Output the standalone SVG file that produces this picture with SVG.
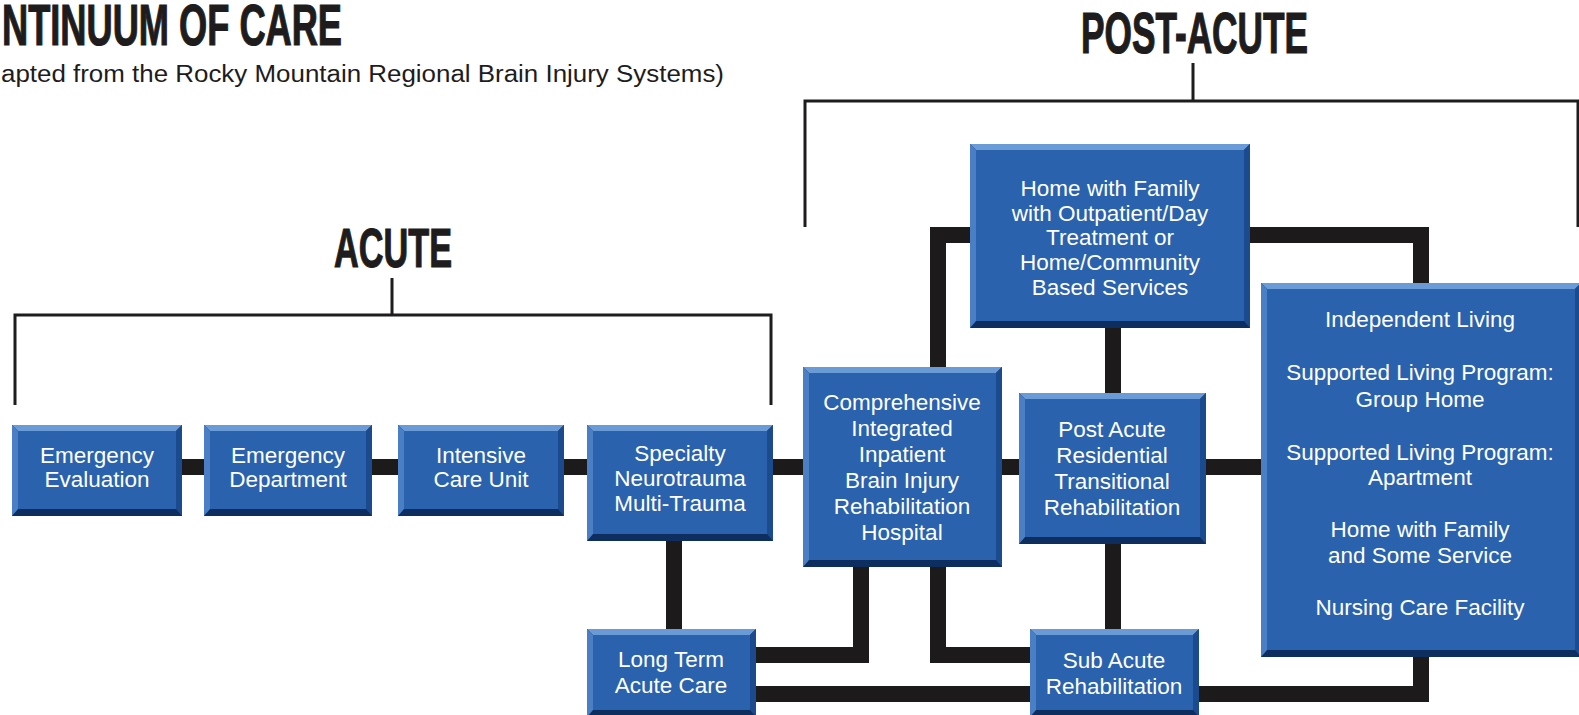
<svg xmlns="http://www.w3.org/2000/svg" width="1579" height="715" viewBox="0 0 1579 715">
<style>
.base{fill:#0e2e5f}
.bt{fill:#6b9bd7}
.bl{fill:#4a7fc5}
.br{fill:#1b4a8f}
.face{fill:#2a62ad}
.t{font-family:"Liberation Sans",Arial,sans-serif;font-size:22.5px;fill:#ffffff;text-anchor:middle}
.h{font-family:"Liberation Sans",Arial,sans-serif;font-weight:bold;fill:#1e1c1d;stroke:#1e1c1d;stroke-width:1.2}
.sub{font-family:"Liberation Sans",Arial,sans-serif;font-size:23.5px;fill:#1e1c1d}
.br-line{fill:none;stroke:#1e1c1d;stroke-width:3}
.conn{fill:none;stroke:#1d1a1b;stroke-width:16;stroke-linejoin:miter;stroke-linecap:butt}
</style>
<rect width="1579" height="715" fill="#ffffff"/>

<g id="titles">
<text class="h" x="2" y="45" font-size="57" textLength="340" lengthAdjust="spacingAndGlyphs">NTINUUM OF CARE</text>
<text class="sub" x="1" y="82" textLength="723" lengthAdjust="spacingAndGlyphs">apted from the Rocky Mountain Regional Brain Injury Systems)</text>
<text class="h" x="334" y="267" font-size="56" textLength="118" lengthAdjust="spacingAndGlyphs">ACUTE</text>
<text class="h" x="1081" y="53" font-size="57" textLength="227" lengthAdjust="spacingAndGlyphs">POST-ACUTE</text>
</g>

<g id="brackets">
<path class="br-line" d="M15 405 V315 H771 V405 M392 315 V278"/>
<path class="br-line" d="M805 227 V101 H1578 V227 M1193 101 V63"/>
</g>

<g id="connectors">
<path class="conn" d="M182 467 H1261"/>
<path class="conn" d="M674 541 V629"/>
<path class="conn" d="M861 567 V655 H756"/>
<path class="conn" d="M970 235 H938 V655 H1030"/>
<path class="conn" d="M1113 328 V393"/>
<path class="conn" d="M1250 235 H1421 V283"/>
<path class="conn" d="M1113 544 V629"/>
<path class="conn" d="M756 694 H1421 V657"/>
</g>

<g id="emergency-evaluation">
<rect class="base" x="12" y="425" width="170" height="91"/>
<polygon class="bt" points="12,425 182,425 176,431 18,431"/>
<polygon class="bl" points="12,425 18,431 18,509 12,516"/>
<polygon class="br" points="182,425 182,516 176,509 176,431"/>
<rect class="face" x="18" y="431" width="158" height="78"/>
<text class="t" x="97" y="463">Emergency</text>
<text class="t" x="97" y="487">Evaluation</text>
</g>

<g id="emergency-department">
<rect class="base" x="204" y="425" width="168" height="91"/>
<polygon class="bt" points="204,425 372,425 366,431 210,431"/>
<polygon class="bl" points="204,425 210,431 210,509 204,516"/>
<polygon class="br" points="372,425 372,516 366,509 366,431"/>
<rect class="face" x="210" y="431" width="156" height="78"/>
<text class="t" x="288" y="463">Emergency</text>
<text class="t" x="288" y="487">Department</text>
</g>

<g id="intensive-care-unit">
<rect class="base" x="398" y="425" width="166" height="91"/>
<polygon class="bt" points="398,425 564,425 558,431 404,431"/>
<polygon class="bl" points="398,425 404,431 404,509 398,516"/>
<polygon class="br" points="564,425 564,516 558,509 558,431"/>
<rect class="face" x="404" y="431" width="154" height="78"/>
<text class="t" x="481" y="463">Intensive</text>
<text class="t" x="481" y="487">Care Unit</text>
</g>

<g id="specialty-neurotrauma">
<rect class="base" x="587" y="425" width="186" height="116"/>
<polygon class="bt" points="587,425 773,425 767,431 593,431"/>
<polygon class="bl" points="587,425 593,431 593,534 587,541"/>
<polygon class="br" points="773,425 773,541 767,534 767,431"/>
<rect class="face" x="593" y="431" width="174" height="103"/>
<text class="t" x="680" y="461">Specialty</text>
<text class="t" x="680" y="486">Neurotrauma</text>
<text class="t" x="680" y="511">Multi-Trauma</text>
</g>

<g id="long-term-acute-care">
<rect class="base" x="587" y="629" width="169" height="88"/>
<polygon class="bt" points="587,629 756,629 750,635 593,635"/>
<polygon class="bl" points="587,629 593,635 593,710 587,717"/>
<polygon class="br" points="756,629 756,717 750,710 750,635"/>
<rect class="face" x="593" y="635" width="157" height="75"/>
<text class="t" x="671" y="667">Long Term</text>
<text class="t" x="671" y="693">Acute Care</text>
</g>

<g id="comprehensive-inpatient">
<rect class="base" x="803" y="367" width="199" height="200"/>
<polygon class="bt" points="803,367 1002,367 996,373 809,373"/>
<polygon class="bl" points="803,367 809,373 809,560 803,567"/>
<polygon class="br" points="1002,367 1002,567 996,560 996,373"/>
<rect class="face" x="809" y="373" width="187" height="187"/>
<text class="t" x="902" y="410">Comprehensive</text>
<text class="t" x="902" y="436">Integrated</text>
<text class="t" x="902" y="462">Inpatient</text>
<text class="t" x="902" y="488">Brain Injury</text>
<text class="t" x="902" y="514">Rehabilitation</text>
<text class="t" x="902" y="540">Hospital</text>
</g>

<g id="home-with-family-outpatient">
<rect class="base" x="970" y="144" width="280" height="184"/>
<polygon class="bt" points="970,144 1250,144 1244,150 976,150"/>
<polygon class="bl" points="970,144 976,150 976,321 970,328"/>
<polygon class="br" points="1250,144 1250,328 1244,321 1244,150"/>
<rect class="face" x="976" y="150" width="268" height="171"/>
<text class="t" x="1110" y="196">Home with Family</text>
<text class="t" x="1110" y="221">with Outpatient/Day</text>
<text class="t" x="1110" y="245">Treatment or</text>
<text class="t" x="1110" y="270">Home/Community</text>
<text class="t" x="1110" y="295">Based Services</text>
</g>

<g id="post-acute-residential">
<rect class="base" x="1019" y="393" width="187" height="151"/>
<polygon class="bt" points="1019,393 1206,393 1200,399 1025,399"/>
<polygon class="bl" points="1019,393 1025,399 1025,537 1019,544"/>
<polygon class="br" points="1206,393 1206,544 1200,537 1200,399"/>
<rect class="face" x="1025" y="399" width="175" height="138"/>
<text class="t" x="1112" y="437">Post Acute</text>
<text class="t" x="1112" y="463">Residential</text>
<text class="t" x="1112" y="489">Transitional</text>
<text class="t" x="1112" y="515">Rehabilitation</text>
</g>

<g id="sub-acute-rehabilitation">
<rect class="base" x="1030" y="629" width="169" height="88"/>
<polygon class="bt" points="1030,629 1199,629 1193,635 1036,635"/>
<polygon class="bl" points="1030,629 1036,635 1036,710 1030,717"/>
<polygon class="br" points="1199,629 1199,717 1193,710 1193,635"/>
<rect class="face" x="1036" y="635" width="157" height="75"/>
<text class="t" x="1114" y="668">Sub Acute</text>
<text class="t" x="1114" y="694">Rehabilitation</text>
</g>

<g id="living-options">
<rect class="base" x="1261" y="283" width="320" height="374"/>
<polygon class="bt" points="1261,283 1581,283 1575,289 1267,289"/>
<polygon class="bl" points="1261,283 1267,289 1267,650 1261,657"/>
<polygon class="br" points="1581,283 1581,657 1575,650 1575,289"/>
<rect class="face" x="1267" y="289" width="308" height="361"/>
<text class="t" x="1420" y="327">Independent Living</text>
<text class="t" x="1420" y="380">Supported Living Program:</text>
<text class="t" x="1420" y="407">Group Home</text>
<text class="t" x="1420" y="460">Supported Living Program:</text>
<text class="t" x="1420" y="485">Apartment</text>
<text class="t" x="1420" y="537">Home with Family</text>
<text class="t" x="1420" y="563">and Some Service</text>
<text class="t" x="1420" y="615">Nursing Care Facility</text>
</g>
</svg>
